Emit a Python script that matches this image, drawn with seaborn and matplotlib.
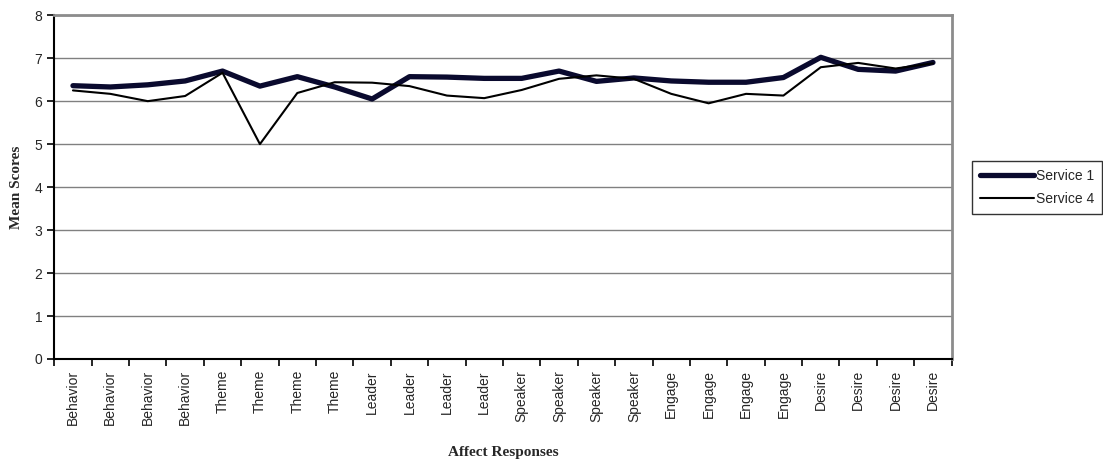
import matplotlib
matplotlib.use("Agg")
import matplotlib.pyplot as plt
import seaborn as sns
import pandas as pd
from matplotlib.ticker import FixedLocator, NullFormatter

categories = (["Behavior"] * 4 + ["Theme"] * 4 + ["Leader"] * 4
              + ["Speaker"] * 4 + ["Engage"] * 4 + ["Desire"] * 4)

service_1 = [6.36, 6.33, 6.38, 6.47, 6.70, 6.35, 6.57, 6.33, 6.05, 6.57, 6.56, 6.53,
             6.53, 6.70, 6.46, 6.54, 6.47, 6.44, 6.44, 6.55, 7.02, 6.74, 6.70, 6.90]
service_4 = [6.25, 6.17, 6.00, 6.12, 6.66, 5.00, 6.19, 6.44, 6.43, 6.35, 6.13, 6.07,
             6.26, 6.52, 6.60, 6.52, 6.17, 5.95, 6.17, 6.13, 6.79, 6.89, 6.76, 6.88]

df = pd.DataFrame({
    "pos": list(range(len(categories))) * 2,
    "score": service_1 + service_4,
    "series": ["Service 1"] * len(service_1) + ["Service 4"] * len(service_4),
})

sns.set_style("white")
plt.rcParams["font.family"] = ["Liberation Sans", "DejaVu Sans"]

fig, ax = plt.subplots(figsize=(11.03, 4.61), dpi=100)
plt.subplots_adjust(left=0.0492, right=0.8628, top=0.967, bottom=0.2213)

sns.lineplot(data=df[df["series"] == "Service 1"], x="pos", y="score",
             color="#0a0a2e", linewidth=3.8, ax=ax, label="Service 1")
sns.lineplot(data=df[df["series"] == "Service 4"], x="pos", y="score",
             color="black", linewidth=1.5, ax=ax, label="Service 4")

ax.set_xlim(-0.5, len(categories) - 0.5)
ax.set_ylim(0, 8)
ax.set_yticks(range(0, 9))
ax.yaxis.grid(True, color="#808080", linewidth=1.0)
ax.set_axisbelow(True)

# labels at category centres, tick marks between categories
ax.set_xticks(range(len(categories)))
ax.set_xticklabels(categories, rotation=90, fontsize=10)
ax.tick_params(axis="x", which="major", length=0, pad=8)
ax.xaxis.set_minor_locator(FixedLocator([i - 0.5 for i in range(len(categories) + 1)]))
ax.xaxis.set_minor_formatter(NullFormatter())
ax.tick_params(axis="x", which="minor", length=5, width=1.2, color="black", bottom=True)
ax.tick_params(axis="y", length=5, width=1.2, color="black", left=True, labelsize=10)

for side in ["left", "bottom"]:
    ax.spines[side].set_color("black")
    ax.spines[side].set_linewidth(1.5)
for side in ["top", "right"]:
    ax.spines[side].set_color("#8c8c8c")
    ax.spines[side].set_linewidth(2.0)

ax.set_xlabel("Affect Responses", family="Liberation Serif", fontweight="bold",
              fontsize=11, labelpad=15)
ax.set_ylabel("Mean Scores", family="Liberation Serif", fontweight="bold",
              fontsize=11, labelpad=8)

leg = ax.legend(loc="upper left", bbox_to_anchor=(0.881, 0.651),
                bbox_transform=fig.transFigure, frameon=True, fancybox=False,
                fontsize=10, handlelength=3.9, handletextpad=0.1,
                borderpad=0.6, labelspacing=0.6, borderaxespad=0)
leg.get_frame().set_edgecolor("black")
leg.get_frame().set_linewidth(1.0)

fig.savefig("out.png", dpi=100)
plt.close(fig)
